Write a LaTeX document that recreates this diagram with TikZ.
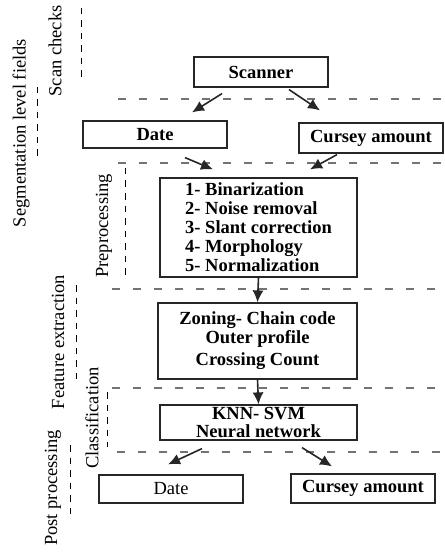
\documentclass[tikz,border=0pt]{standalone}
\usepackage{fontspec}
\setmainfont{Liberation Serif}
\usetikzlibrary{arrows.meta}

\begin{document}
\begin{tikzpicture}[
        x=1pt, y=-1pt,
        font=\fontsize{18.5}{19}\selectfont,
        block/.style={rectangle, draw=black!85, line width=1.2pt, align=center, inner sep=1pt, font=\fontsize{18.5}{19}\selectfont\bfseries},
        arrow/.style={-{Latex[length=12pt,width=11pt]}, line width=1.6pt, black!85},
        sepline/.style={draw=black!55, line width=1.6pt, dash pattern=on 8pt off 13pt},
        stagemark/.style={draw=black, line width=0.9pt, dash pattern=on 6.5pt off 6pt},
        stagelabel/.style={rotate=90, inner sep=0pt}
    ]
        \useasboundingbox (0,0) rectangle (444,553);

        % boxes
        \node[block, minimum width=134pt, minimum height=30pt] (scanner) at (261,72) {Scanner};
        \node[block, minimum width=144pt, minimum height=27pt] (date) at (155,134.5) {Date};
        \node[block, minimum width=144pt, minimum height=30pt] (cursey) at (371,138) {Cursey amount};
        \node[block, align=left, minimum width=197pt, minimum height=99pt] (prep) at (258.5,227.5)
            {1- Binarization\\2- Noise removal\\3- Slant correction\\4- Morphology\\5- Normalization};
        \node[block, minimum width=199pt, minimum height=76pt] (feat) at (257.5,341)
            {Zoning- Chain code\\Outer profile\\[3pt]Crossing Count};
        \node[block, minimum width=197pt, minimum height=35pt] (classif) at (258.5,422.5)
            {KNN- SVM\\[-1pt]Neural network};
        \node[block, font=\fontsize{18.5}{19}\selectfont, minimum width=144pt, minimum height=28pt] (dateout) at (171,489) {Date};
        \node[block, minimum width=144pt, minimum height=29pt] (curseyout) at (363,488.5) {Cursey amount};

        % stage labels
        \node[stagelabel] (scanlbl) at (55,51) {Scan checks};
        \node[stagelabel] (seglbl) at (21,133) {Segmentation level fields};
        \node[stagelabel] (preplbl) at (104,226) {Preprocessing};
        \node[stagelabel] (featlbl) at (58,342) {Feature extraction};
        \node[stagelabel] (classlbl) at (92,418) {Classification};
        \node[stagelabel] (postlbl) at (53,488) {Post processing};

        % stage marks
        \draw[stagemark] (81,8) -- (81,80);
        \draw[stagemark] (37,87) -- (37,157);
        \draw[stagemark] (125,168) -- (125,277);
        \draw[stagemark] (76,285) -- (76,382);
        \draw[stagemark] (107,392) -- (107,447);
        \draw[stagemark] (70,445) -- (70,515);

        % separators
        \draw[sepline] (118,99) -- (444,99);
        \draw[sepline] (118,163) -- (444,163);
        \draw[sepline] (112,289) -- (444,289);
        \draw[sepline] (112,388) -- (444,388);
        \draw[sepline] (117,452) -- (444,452);

        % arrows
        \draw[arrow] ([xshift=-39pt,yshift=-6pt]scanner.south) -- ([xshift=37pt,yshift=8pt]date.north);
        \draw[arrow] ([xshift=28pt,yshift=-2pt]scanner.south) -- ([xshift=-51pt,yshift=12pt]cursey.north);
        \draw[arrow] ([xshift=30pt,yshift=-9pt]date.south) -- ([xshift=-45.5pt,yshift=8pt]prep.north);
        \draw[arrow] ([xshift=-34pt,yshift=-1pt]cursey.south) -- ([xshift=51.5pt,yshift=8pt]prep.north);
        \draw[arrow] (prep.south) -- (feat.north);
        \draw[arrow] (feat.south) -- (classif.north);
        \draw[arrow] ([xshift=-56.5pt,yshift=-8pt]classif.south) -- ([xshift=-3pt,yshift=10pt]dateout.north);
        \draw[arrow] ([xshift=43.5pt,yshift=-7pt]classif.south) -- ([xshift=-31pt,yshift=7pt]curseyout.north);
    \end{tikzpicture}
\end{document}
